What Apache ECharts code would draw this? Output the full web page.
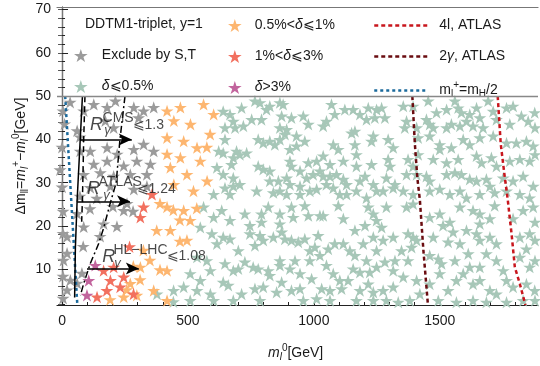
<!DOCTYPE html>
<html>
<head>
<meta charset="utf-8">
<script src="https://cdn.jsdelivr.net/npm/echarts@6/dist/echarts.min.js"></script>
<style>
  html, body { margin: 0; padding: 0; background: #fff; }
  #chart { width: 540px; height: 366px; }
</style>
</head>
<body>
<div id="chart"></div>
<script>
// points: [m_l^0 (GeV), Δm (GeV)]
const excludedST = [
  [86,46.6],[126,48.1],[179,47.4],[212,48.9],[285,47.4],[324,46.6],[364,47.4],[172,44.3],[304,45.0],[60,42.0],
  [205,42.7],[72,37.3],[112,37.3],[179,38.1],[219,36.6],[285,37.7],[324,38.9],[364,37.3],[126,34.3],[179,35.0],
  [245,33.9],[297,35.0],[351,34.3],[86,31.9],[152,32.3],[205,31.5],[271,31.9],[337,31.9],[112,28.9],[192,29.2],
  [285,28.5],[337,29.2],[4,46.6],[32,48.6],[10,43.6],[0,38.2],[-8,33.0],[71,40.6],[0,29.0],[4,23.4],
  [71,26.9],[111,24.0],[138,26.4],[218,19.9],[151,17.6],[4,18.3],[84,15.3],[20,13.7],[4,8.4],[79,9.1],
  [20,5.2],[4,3.3],[60,6.8],[258,25.2],[282,23.4],[202,24.5],[60,22.9],[86,19.8],[165,20.5],[20,17.5],
  [6,12.1],[33,7.5],[245,23.6]
];
const deltaUpTo05 = [
  [640,46.5],[667,45.8],[713,47.3],[766,48.9],[786,48.5],[812,46.9],[825,47.7],[865,48.5],[878,48.1],[872,45.4],
  [911,45.0],[958,45.4],[978,43.5],[1070,48.1],[1083,45.8],[1050,44.2],[1037,43.1],[1123,46.9],[1156,46.9],[1183,45.8],
  [1216,47.3],[1249,46.9],[1209,44.6],[1242,45.0],[647,42.7],[687,42.7],[680,44.2],[720,43.1],[753,44.6],[792,44.6],
  [865,42.7],[892,42.3],[885,41.2],[647,40.0],[779,40.0],[799,39.2],[825,39.6],[845,38.8],[865,40.0],[931,40.8],
  [964,39.6],[905,37.7],[931,38.5],[1150,41.5],[1163,41.9],[1236,40.8],[1229,39.6],[1077,38.8],[1097,37.7],[1163,38.8],
  [1169,36.5],[640,36.9],[693,37.3],[733,36.9],[680,35.8],[706,36.5],[673,34.2],[640,31.9],[680,31.1],[647,28.8],
  [706,29.6],[667,27.3],[779,33.8],[799,33.1],[825,32.7],[905,35.0],[911,33.8],[945,32.7],[978,34.6],[1011,35.0],
  [1037,36.2],[1064,34.2],[1117,35.0],[1169,33.8],[1229,34.2],[825,30.4],[859,30.4],[892,31.1],[905,29.6],[945,29.2],
  [971,31.1],[997,31.9],[1024,32.7],[1037,31.5],[1064,31.5],[1090,31.9],[1117,30.8],[1130,29.6],[1183,30.4],[1203,31.5],
  [1236,29.6],[773,28.1],[839,27.7],[865,28.1],[892,27.3],[945,27.3],[984,28.1],[1011,28.5],[1050,29.6],[1077,28.8],
  [1103,27.3],[1130,27.3],[1169,28.1],[1209,26.5],[1249,28.1],
  [1269,47.3],[1282,45.0],[1355,47.7],[1394,47.7],[1454,48.9],[1487,46.2],[1527,46.9],[1560,48.9],[1573,47.3],[1586,46.2],
  [1619,45.8],[1646,47.3],[1659,45.0],[1692,48.9],[1712,46.5],[1765,47.3],[1791,47.7],[1824,45.4],[1877,46.2],[1368,44.2],
  [1361,42.7],[1408,42.7],[1447,44.6],[1460,43.5],[1474,42.7],[1527,42.7],[1546,43.5],[1580,43.1],[1606,44.2],[1632,43.1],
  [1672,42.7],[1725,44.6],[1778,43.5],[1851,44.2],[1878,42.7],[1295,40.0],[1315,38.1],[1414,40.4],[1460,40.8],[1500,38.8],
  [1500,37.7],[1546,38.1],[1593,40.0],[1619,38.8],[1659,40.4],[1712,40.8],[1765,39.2],[1804,39.2],[1844,39.6],[1871,38.5],
  [1295,35.4],[1302,33.8],[1374,35.4],[1394,33.8],[1414,36.5],[1474,35.4],[1527,34.6],[1573,35.4],[1646,36.2],[1666,34.6],
  [1705,35.8],[1725,33.8],[1778,35.0],[1818,35.4],[1857,35.0],[1878,36.5],[1288,31.1],[1322,29.6],[1368,31.9],[1408,31.9],
  [1447,31.5],[1460,30.4],[1527,31.9],[1560,32.3],[1586,31.9],[1619,30.8],[1646,30.4],[1685,30.8],[1699,29.2],[1752,31.1],
  [1791,30.4],[1831,31.5],[1871,29.2],[1275,28.1],[1315,28.8],[1355,28.1],[1394,27.3],[1460,28.1],[1500,28.5],[1540,27.3],
  [1580,28.1],[1606,26.5],[1659,27.3],[1718,27.7],[1765,28.1],[1818,27.3],[1857,26.5],
  [634,23.6],[667,21.3],[726,22.8],[746,20.1],[792,22.8],[819,24.4],[792,20.9],[865,22.8],[865,20.5],[918,22.0],
  [911,24.4],[964,24.7],[978,22.4],[1024,22.4],[1037,22.4],[1097,24.7],[1117,21.7],[1216,24.4],[1236,22.8],[1249,21.3],
  [1163,19.0],[1203,20.1],[640,17.4],[667,17.0],[700,14.3],[746,18.2],[766,15.5],[786,17.8],[799,16.7],[839,17.4],
  [872,18.6],[885,17.0],[911,16.7],[938,16.3],[964,17.0],[1017,17.8],[1004,15.1],[984,14.3],[1057,14.7],[1083,15.9],
  [1117,15.9],[1143,14.3],[1163,13.2],[1196,15.9],[1236,17.4],[1249,14.3],[647,11.3],[680,9.7],[700,10.1],[726,11.7],
  [759,10.5],[779,10.1],[819,9.7],[825,8.6],[865,12.0],[865,10.9],[905,10.1],[925,12.0],[945,9.0],[984,12.0],
  [1024,13.2],[1050,10.9],[1077,9.0],[1103,7.4],[1156,10.1],[1183,9.3],[1209,12.0],[1222,9.3],[1249,10.5],[640,7.0],
  [660,6.3],[713,4.3],[766,5.5],[799,5.9],[852,4.7],[872,7.0],[911,5.1],[945,5.5],[991,7.8],[1031,5.5],
  [1064,5.1],[1110,5.5],[1136,7.4],[1183,5.1],[1216,6.6],[1236,4.7],[680,2.8],[786,2.8],[958,2.8],[1011,3.2],
  [1064,2.8],[1169,2.8],[1236,2.8],
  [1288,24.4],[1368,24.4],[1394,25.1],[1460,22.0],[1500,22.8],[1513,20.1],[1540,20.9],[1580,24.4],[1632,23.6],[1659,22.8],
  [1659,20.5],[1699,21.7],[1718,24.7],[1831,23.6],[1871,24.4],[1878,20.9],[1791,21.7],[1269,19.7],[1275,16.7],[1315,17.4],
  [1374,18.2],[1394,17.4],[1408,16.7],[1388,15.1],[1474,17.4],[1533,16.3],[1553,18.6],[1606,19.0],[1646,18.2],[1659,16.7],
  [1699,17.4],[1725,15.9],[1818,17.4],[1857,18.2],[1878,16.7],[1844,14.7],[1282,11.7],[1322,12.0],[1315,9.7],[1348,14.3],
  [1374,12.0],[1460,13.2],[1494,12.4],[1507,11.3],[1560,12.0],[1580,15.9],[1613,13.6],[1619,10.5],[1659,10.5],[1685,13.6],
  [1725,12.0],[1752,9.7],[1818,12.8],[1857,10.5],[1878,12.0],[1275,5.1],[1315,5.9],[1355,8.2],[1408,7.4],[1421,4.3],
  [1460,6.6],[1500,9.0],[1533,5.1],[1566,7.4],[1593,9.0],[1632,6.6],[1659,7.4],[1699,5.1],[1725,4.3],[1765,7.4],
  [1791,5.9],[1844,6.6],[1877,5.1],[1288,2.8],[1335,2.4],[1381,2.8],[1494,2.8],[1566,2.4],[1632,2.8],[1685,2.4],
  [1765,2.4],[1831,2.8],[1878,2.8],
  [562,24.4],[602,22.0],[549,19.7],[595,18.2],[615,15.9],[536,12.8],[575,12.0],[509,9.0],[549,7.4],[589,9.7],
  [483,5.9],[536,5.1],[589,4.3],[443,5.1],[377,4.3],[442,2.5],[509,2.8],[602,2.8],[615,33.5],[602,27.3],
  [622,37.3],[680,29.2]
];
const deltaUpTo1 = [
  [417,46.6],[470,47.4],[562,48.1],[602,45.8],[444,44.3],[510,43.5],[588,41.2],[417,40.4],[483,39.6],[536,38.1],
  [575,38.2],[417,36.6],[470,35.8],[549,35.0],[430,33.5],[496,31.9],[576,30.4],[444,29.6],[522,28.1],
  [389,25.2],[442,23.7],[483,23.6],[535,24.1],[417,24.4],[468,21.4],[509,21.3],[376,19.0],[430,19.0],[468,16.5],
  [496,16.7],[323,14.4],[349,12.1],[283,10.7],[311,10.5],[389,9.9],[417,9.7],[310,7.6],[257,5.3],[271,6.7],
  [297,4.0],[364,5.1],[191,3.0],[245,3.6],[417,2.8]
];
const deltaUpTo3 = [
  [357,27.3],[324,24.4],[311,22.0],[268,15.2],[205,10.5],[165,9.7],[245,8.2],[192,7.4],[231,5.9],[178,5.1],
  [284,4.3],[139,3.6]
];
const deltaAbove3 = [[132,10.9],[106,7.4],[99,4.0]];

// exclusion curves
const atlas4l = [[1730,50],[1742,39],[1755,32.7],[1770,26],[1785,18.2],[1798,10.5],[1818,6.6],[1840,1.75]];
const atlas2gamma = [[1391,50],[1401,39],[1411,31],[1421,26],[1435,14.3],[1453,1.75]];
const halfHiggs = [[12.5,50],[60.75,1.75]];
const rgammaSolid = [[81,50],[60,26],[53,15],[50,3.5]];
const rgammaDashed = [[91,50],[86,40],[81,26],[78,21]];
const rgammaDashDot = [[250,50],[230,40],[215,30],[190,25],[166,19.7],[146,16],[112,11.3],[86,6.7],[73,4]];

const xLabels = [0, 500, 1000, 1500];
const xMinor = [0,100,200,300,400,500,600,700,800,900,1000,1100,1200,1300,1400,1500,1600,1700,1800];
const yLabels = [10, 20, 30, 40, 50, 60, 70];
const yMinor = [2,4,6,8,10,12,14,16,18,20,22,24,26,28,30,32,34,36,38,40,42,44,46,48,50,52,54,56,58,60,62,64,66,68,70];

const STAR = 'path://M0,-10L2.245,-3.09L9.511,-3.09L3.633,1.18L5.878,8.09L0,3.82L-5.878,8.09L-3.633,1.18L-9.511,-3.09L-2.245,-3.09Z';
const FONT = '"Liberation Sans", Arial, sans-serif';
const INK = '#1a1a1a';

const rich = {
  i: { fontStyle: 'italic', fontSize: 14, fontFamily: FONT, color: INK },
  sub: { fontSize: 10, fontFamily: FONT, color: INK, padding: [8, 0, 0, 0] },
  isub: { fontSize: 10, fontStyle: 'italic', fontFamily: FONT, color: INK, padding: [8, 0, 0, 0] },
  sup: { fontSize: 10, fontFamily: FONT, color: INK, padding: [0, 0, 10, 0] }
};

const legendText = {
  'Exclude by S,T': 'Exclude by S,T',
  'd05': '{i|δ}⩽0.5%',
  'd1': '0.5%<{i|δ}⩽1%',
  'd3': '1%<{i|δ}⩽3%',
  'dtop': '{i|δ}>3%',
  '4l': '4l, ATLAS',
  '2g': '2{i|γ}, ATLAS',
  'mh': 'm{sub|l}{sup|+}=m{sub|H}/2'
};

// R_gamma annotations placed in data coordinates
const annotations = [
  { t: 'R', at: [139, 43.3], s: 'R', align: 'center' },
  { t: 'CMS', at: [163, 44.9], s: 'up', align: 'left' },
  { t: 'γ', at: [183, 41.9], s: 'gam', align: 'center' },
  { t: '⩽1.3', at: [282, 43.3], s: 'num', align: 'left' },
  { t: 'R', at: [127, 28.5], s: 'R', align: 'center' },
  { t: 'ATLAS', at: [147, 30.1], s: 'up', align: 'left' },
  { t: 'γ', at: [179, 26.9], s: 'gam', align: 'center' },
  { t: '⩽1.24', at: [298, 28.5], s: 'num', align: 'left' },
  { t: 'R', at: [187, 12.8], s: 'R', align: 'center' },
  { t: 'HL−LHC', at: [206, 14.2], s: 'up', align: 'left' },
  { t: 'γ', at: [222, 11.2], s: 'gam', align: 'center' },
  { t: '⩽1.08', at: [417, 13.0], s: 'num', align: 'left' }
];
const annStyles = {
  R: { fontSize: 18, fontStyle: 'italic' },
  up: { fontSize: 14 },
  gam: { fontSize: 13, fontStyle: 'italic' },
  num: { fontSize: 14 }
};

const chart = echarts.init(document.getElementById('chart'), null, { renderer: 'canvas' });

const xMin = -20, xMax = 1890, yMin = 1.75, yMax = 70.6;

function scatter(name, data, color) {
  return {
    name: name, type: 'scatter', data: data, symbol: STAR, symbolSize: 13,
    symbolKeepAspect: true, itemStyle: { color: color, opacity: 1 }, z: 2, silent: true
  };
}
function curve(name, data, color, type, width) {
  return {
    name: name, type: 'line', data: data, symbol: 'none', showSymbol: false, z: 4, silent: true,
    lineStyle: { color: color, type: type, width: width }, itemStyle: { color: color }
  };
}

const option = {
  animation: false,
  backgroundColor: '#fff',
  textStyle: { fontFamily: FONT },
  grid: { left: 57, right: 2, top: 7, bottom: 61 },
  xAxis: [
    {
      type: 'value', min: xMin, max: xMax, position: 'bottom',
      axisLine: { lineStyle: { color: '#222', width: 1.2 } },
      axisTick: { inside: true, length: 6, customValues: xLabels, lineStyle: { color: '#222' } },
      axisLabel: {
        customValues: xLabels, formatter: v => String(v),
        color: INK, fontSize: 14, margin: 9, fontFamily: FONT
      },
      splitLine: { show: false }
    },
    {
      type: 'value', min: xMin, max: xMax, position: 'bottom',
      axisLine: { show: false },
      axisTick: { inside: true, length: 3, customValues: xMinor, lineStyle: { color: '#222' } },
      axisLabel: { show: false }, splitLine: { show: false }
    },
    {
      type: 'value', min: xMin, max: xMax, position: 'top',
      axisLine: { lineStyle: { color: '#777', width: 1.2 } },
      axisTick: { show: false }, axisLabel: { show: false }, splitLine: { show: false }
    }
  ],
  yAxis: [
    {
      type: 'value', min: yMin, max: yMax, position: 'left',
      axisLine: { show: true, lineStyle: { color: '#222', width: 1.2 } },
      axisTick: { show: true, inside: true, length: 6, customValues: yLabels, lineStyle: { color: '#222' } },
      axisLabel: { customValues: yLabels, color: INK, fontSize: 14, margin: 6, fontFamily: FONT },
      splitLine: { show: false }
    },
    {
      type: 'value', min: yMin, max: yMax, position: 'left',
      axisLine: { show: false },
      axisTick: { show: true, inside: true, length: 3, customValues: yMinor, lineStyle: { color: '#222' } },
      axisLabel: { show: false }, splitLine: { show: false }
    },
    {
      type: 'value', min: yMin, max: yMax, position: 'right',
      axisLine: { show: true, lineStyle: { color: '#777', width: 1.2 } },
      axisTick: { show: true, inside: true, length: 4, customValues: yMinor, lineStyle: { color: '#555' } },
      axisLabel: { show: false }, splitLine: { show: false }
    }
  ],
  legend: [
    {
      orient: 'vertical', left: 74, top: 48.5, padding: 0, itemWidth: 32, itemHeight: 13, itemGap: 17,
      selectedMode: false, symbolKeepAspect: true,
      data: [{ name: 'Exclude by S,T', icon: STAR }, { name: 'd05', icon: STAR }],
      formatter: n => legendText[n],
      textStyle: { fontSize: 14, color: INK, fontFamily: FONT, rich: rich }
    },
    {
      orient: 'vertical', left: 228, top: 18.5, padding: 0, itemWidth: 30, itemHeight: 13, itemGap: 17,
      selectedMode: false, symbolKeepAspect: true,
      data: [{ name: 'd1', icon: STAR }, { name: 'd3', icon: STAR }, { name: 'dtop', icon: STAR }],
      formatter: n => legendText[n],
      textStyle: { fontSize: 14, color: INK, fontFamily: FONT, rich: rich }
    },
    {
      orient: 'vertical', left: 373, top: 18.5, padding: 0, itemWidth: 54, itemHeight: 13, itemGap: 17,
      selectedMode: false,
      lineStyle: { width: 2.5 },
      itemStyle: { opacity: 0 },
      data: ['4l', '2g', 'mh'],
      formatter: n => legendText[n],
      textStyle: { fontSize: 14, color: INK, fontFamily: FONT, rich: rich, padding: [0, 0, 0, 6] }
    }
  ],
  graphic: [
    {
      type: 'text', left: 85, top: 17, silent: true,
      style: { text: 'DDTM1-triplet, y=1', fontSize: 14, fontFamily: FONT, fill: INK }
    },
    {
      type: 'text', x: 268, y: 353, silent: true,
      style: {
        text: '{im|m}{isub|l}{sup|0}[GeV]', verticalAlign: 'middle', align: 'left',
        fontSize: 14, fontFamily: FONT, fill: INK,
        rich: Object.assign({ im: { fontStyle: 'italic', fontSize: 14, fontFamily: FONT } }, rich)
      }
    },
    {
      type: 'text', x: 21, y: 156, rotation: Math.PI / 2, silent: true,
      style: {
        text: 'Δm{sub|ll}={im|m}{isub|l}{sup|+}−{im|m}{isub|l}{sup|0}[GeV]',
        align: 'center', verticalAlign: 'middle',
        fontSize: 14, fontFamily: FONT, fill: INK,
        rich: Object.assign({ im: { fontStyle: 'italic', fontSize: 14, fontFamily: FONT } }, rich)
      }
    }
  ],
  series: [
    scatter('d05', deltaUpTo05, '#a7c7b8'),
    scatter('d1', deltaUpTo1, '#fdb670'),
    scatter('d3', deltaUpTo3, '#f2705f'),
    scatter('dtop', deltaAbove3, '#c2649d'),
    scatter('Exclude by S,T', excludedST, '#9b9b9b'),
    curve('4l', atlas4l, '#c8161d', [4, 3], 2.5),
    curve('2g', atlas2gamma, '#6a0c10', [4, 3], 2.5),
    curve('mh', halfHiggs, '#1b6a9c', [3, 3], 2.5),
    curve('solid', rgammaSolid, '#000', 'solid', 1.5),
    curve('dashed', rgammaDashed, '#000', [6, 4], 1.5),
    curve('dashdot', rgammaDashDot, '#000', [7, 3, 2, 3], 1.5),
    {
      name: 'frame', type: 'line', data: [], silent: true, z: 5,
      markLine: {
        silent: true, animation: false, label: { show: false }, symbol: ['none', 'none'],
        data: [
          { yAxis: 50, lineStyle: { color: '#888', width: 1.3, type: 'solid' } },
          [{ coord: [71, 40], symbol: 'none' }, { coord: [277, 40], symbol: 'arrow', symbolSize: [9, 13] }],
          [{ coord: [60, 25.7], symbol: 'none' }, { coord: [270, 25.7], symbol: 'arrow', symbolSize: [9, 13] }],
          [{ coord: [99, 10.2], symbol: 'none' }, { coord: [305, 10.2], symbol: 'arrow', symbolSize: [9, 13] }]
        ],
        lineStyle: { color: '#000', width: 1.6, type: 'solid' }
      }
    },
    {
      name: 'annot', type: 'scatter', silent: true, z: 6, symbolSize: 1,
      itemStyle: { color: 'rgba(0,0,0,0)' },
      data: annotations.map(a => ({
        value: a.at,
        label: Object.assign({
          show: true, formatter: a.t, position: [0, 0], align: a.align, verticalAlign: 'middle',
          color: INK, fontFamily: FONT
        }, annStyles[a.s])
      }))
    }
  ]
};

chart.setOption(option);
</script>
</body>
</html>
